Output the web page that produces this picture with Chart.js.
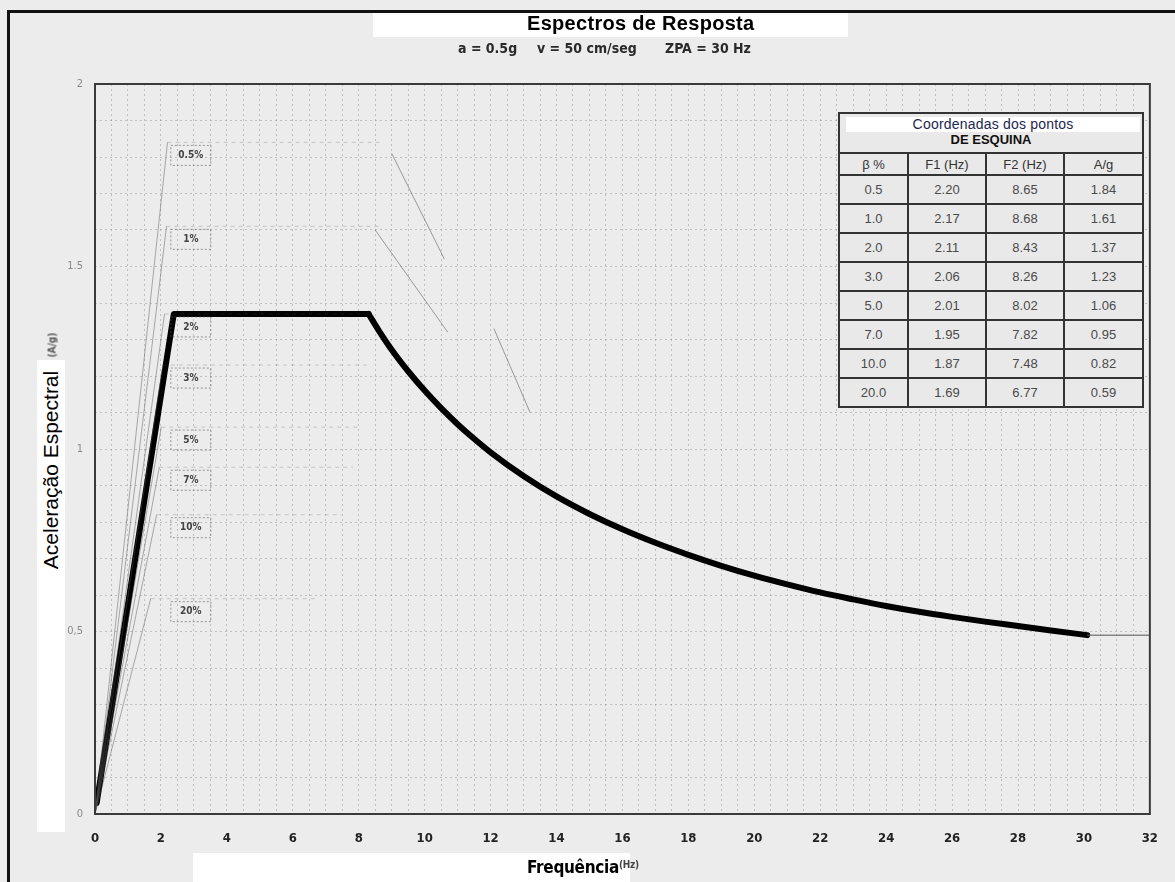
<!DOCTYPE html>
<html lang="pt-br">
<head>
<meta charset="UTF-8">
<title>Espectros de Resposta</title>
<script src="https://cdn.jsdelivr.net/npm/chart.js"></script>
<style>
  body { margin: 0; background: #ececec; font-family: "Liberation Sans", Arial, sans-serif; }
  #wrap { position: relative; width: 1175px; height: 882px; overflow: hidden; }
  #frame { position: absolute; left: 7px; top: 10px; width: 1170px; height: 880px;
           border-top: 3px solid #111; border-left: 3px solid #111; }
  canvas { position: absolute; left: 0; top: 0; }
  .white { position: absolute; background: #fff; }
  #titulo { position: absolute; left: 527px; top: 12px; font: bold 20px "Liberation Sans", Arial, sans-serif; color: #000; letter-spacing: 0.3px; }
  .sub { position: absolute; top: 40px; font: bold 14px "DejaVu Sans Condensed", "Liberation Sans", sans-serif; color: #2a2a2a; white-space: pre; }
  #ytitle { position: absolute; left: 51px; top: 470px; transform: translate(-50%, -50%) rotate(-90deg);
            font: 21px "Liberation Sans", Arial, sans-serif; color: #000; white-space: nowrap; }
  #yunit { position: absolute; left: 52px; top: 345px; transform: translate(-50%, -50%) rotate(-90deg);
           font: bold 10px "DejaVu Sans Condensed", sans-serif; color: #555; white-space: nowrap; }
  #xtitle { position: absolute; left: 527px; top: 857px; font: bold 17px "DejaVu Sans Condensed", "Liberation Sans", sans-serif; color: #000; white-space: nowrap; letter-spacing: -0.3px; }
  #xtitle small { font-size: 10px; color: #444; vertical-align: 5px; }
  #tabela { position: absolute; left: 838px; top: 112px; width: 304px; border-collapse: collapse; table-layout: fixed;
            background: #e9e9e9; border: 2px solid #222; font: 13px "Liberation Sans", Arial, sans-serif; color: #4a4a4a; }
  #tabela td { border: 2px solid #333; text-align: center; padding: 0; height: 27px; vertical-align: middle; }
  #tabela td.cab { height: 35px; border-bottom: 2px solid #333; line-height: 15px; padding-top: 3px; vertical-align: top; }
  #tabela .faixa { background: #fff; color: #1c2650; font-size: 14px; display: block; margin: 0 2px 0 6px; letter-spacing: 0.2px; }
  #tabela .esq { color: #111; font-weight: bold; font-size: 13px; }
  #tabela tr.hd td { height: 20px; color: #333; }
</style>
</head>
<body>
<div id="wrap">
  <div id="frame"></div>
  <canvas id="chart" width="1175" height="882"></canvas>
  <div class="white" style="left:373px;top:13px;width:475px;height:24px;"></div>
  <div id="titulo">Espectros de Resposta</div>
  <div class="sub" style="left:458px;">a = 0.5g</div>
  <div class="sub" style="left:537px;">v = 50 cm/seg</div>
  <div class="sub" style="left:665px;">ZPA = 30 Hz</div>
  <div class="white" style="left:37px;top:360px;width:28px;height:472px;"></div>
  <div id="ytitle">Aceleração Espectral</div>
  <div id="yunit">(A/g)</div>
  <div class="white" style="left:193px;top:853px;width:437px;height:29px;"></div>
  <div id="xtitle">Frequência<small>(Hz)</small></div>
  <table id="tabela">
    <colgroup><col style="width:69px"><col style="width:78px"><col style="width:78px"><col style="width:79px"></colgroup>
    <tbody id="corpo"></tbody>
  </table>
</div>
<script>
// dados
var amortecimento = [0.5, 1.0, 2.0, 3.0, 5.0, 7.0, 10.0, 20.0];
var rotulos = ['0.5%', '1%', '2%', '3%', '5%', '7%', '10%', '20%'];
var f1 = [2.20, 2.17, 2.11, 2.06, 2.01, 1.95, 1.87, 1.69];
var f2 = [8.65, 8.68, 8.43, 8.26, 8.02, 7.82, 7.48, 6.77];
var aG = [1.84, 1.61, 1.37, 1.23, 1.06, 0.95, 0.82, 0.59];

// curva principal: rampa + patamar
var rampaF = [0.05, 2.39, 8.3];
var rampaA = [0.03, 1.37, 1.37];
// curva principal: trecho descendente
var quedaF = [8.3, 8.6, 9, 9.5, 10, 10.5, 11, 11.5, 12, 13, 14, 15, 16, 17, 18, 19, 20, 21, 22, 23, 24, 25, 26, 27, 28, 29, 30.1];
var quedaA = [1.37, 1.326, 1.272, 1.213, 1.16, 1.112, 1.068, 1.028, 0.991, 0.926, 0.870, 0.822, 0.780, 0.743, 0.710, 0.680, 0.653, 0.629, 0.607, 0.588, 0.570, 0.554, 0.540, 0.527, 0.515, 0.503, 0.49];

// trechos descendentes fracos visíveis
var desc05f = [9.0, 10.6];
var desc05a = [1.81, 1.52];
var desc1f = [8.5, 10.7];
var desc1a = [1.60, 1.32];
var desc3f = [12.1, 13.2];
var desc3a = [1.33, 1.10];

// cauda após ZPA
var caudaF = [30.1, 32];
var caudaA = [0.49, 0.49];

// tabela HTML
var corpo = document.getElementById('corpo');
var html = '<tr><td class="cab" colspan="4"><span class="faixa">Coordenadas dos pontos</span><span class="esq">DE ESQUINA</span></td></tr>';
html += '<tr class="hd"><td>β %</td><td>F1 (Hz)</td><td>F2 (Hz)</td><td>A/g</td></tr>';
for (var i = 0; i < amortecimento.length; i++) {
  html += '<tr><td>' + amortecimento[i].toFixed(1) + '</td><td>' + f1[i].toFixed(2) + '</td><td>' + f2[i].toFixed(2) + '</td><td>' + aG[i].toFixed(2) + '</td></tr>';
}
corpo.innerHTML = html;

function pares(xs, ys) {
  return xs.map(function(x, k) { return {x: x, y: ys[k]}; });
}

var datasets = [];
for (var j = 0; j < amortecimento.length; j++) {
  datasets.push({
    data: [{x: 0, y: 0}, {x: f1[j], y: aG[j]}, {x: f2[j], y: aG[j]}],
    borderColor: 'rgba(80,80,80,0.45)',
    borderWidth: 1,
    pointRadius: 0,
    segment: {
      borderDash: function(ctx) { return ctx.p0DataIndex === 1 ? [4, 4] : undefined; },
      borderColor: function(ctx) { return ctx.p0DataIndex === 1 ? 'rgba(80,80,80,0.25)' : undefined; }
    }
  });
}
[[desc05f, desc05a], [desc1f, desc1a], [desc3f, desc3a]].forEach(function(d) {
  datasets.push({ data: pares(d[0], d[1]), borderColor: 'rgba(70,70,70,0.5)', borderWidth: 1, pointRadius: 0 });
});
datasets.push({ data: pares(caudaF, caudaA), borderColor: 'rgba(90,90,90,0.7)', borderWidth: 1.5, pointRadius: 0 });
datasets.push({ data: pares(rampaF, rampaA), borderColor: '#000', borderWidth: 6, pointRadius: 0, borderJoinStyle: 'round', borderCapStyle: 'round' });
datasets.push({ data: pares(quedaF, quedaA), borderColor: '#000', borderWidth: 6, pointRadius: 0, borderCapStyle: 'round', cubicInterpolationMode: 'monotone' });

var molduraERotulos = {
  id: 'molduraERotulos',
  afterDraw: function(chart) {
    var c = chart.ctx, a = chart.chartArea, xs = chart.scales.x, ys = chart.scales.y;
    c.save();
    c.strokeStyle = '#3a3a3a';
    c.lineWidth = 2;
    c.strokeRect(a.left, a.top, a.right - a.left, a.bottom - a.top);
    c.font = 'bold 10px "DejaVu Sans Condensed", sans-serif';
    c.textAlign = 'center';
    c.textBaseline = 'middle';
    for (var i = 0; i < rotulos.length; i++) {
      var px = xs.getPixelForValue(2.3);
      var py = ys.getPixelForValue(aG[i]) + 13;
      c.setLineDash([2, 2]);
      c.strokeStyle = 'rgba(90,90,90,0.6)';
      c.lineWidth = 1;
      c.strokeRect(px, py - 10, 40, 20);
      c.setLineDash([]);
      c.fillStyle = '#444';
      c.fillText(rotulos[i], px + 20, py);
    }
    c.restore();
  }
};

new Chart(document.getElementById('chart'), {
  type: 'line',
  data: { datasets: datasets },
  options: {
    responsive: false,
    animation: false,
    devicePixelRatio: 1,
    layout: { padding: { left: 0, top: 84, right: 7, bottom: 0 } },
    plugins: { legend: { display: false }, tooltip: { enabled: false } },
    scales: {
      x: {
        type: 'linear', min: 0, max: 32,
        afterFit: function(s) { s.height = 68; },
        grid: { color: 'rgba(110,110,110,0.35)', drawTicks: false },
        border: { display: false, dash: [2, 3] },
        ticks: {
          stepSize: 0.5, autoSkip: false, maxRotation: 0, padding: 17,
          color: '#222', font: { family: '"DejaVu Sans Condensed", sans-serif', size: 13, weight: 'bold' },
          callback: function(v) { return (Math.round(v * 2) % 4 === 0) ? String(v) : ''; }
        }
      },
      y: {
        min: 0, max: 2,
        afterFit: function(s) { s.width = 95; },
        grid: { color: 'rgba(110,110,110,0.35)', drawTicks: false },
        border: { display: false, dash: [2, 3] },
        ticks: {
          stepSize: 0.1, autoSkip: false, padding: 12,
          color: '#8a8a8a', font: { family: '"DejaVu Sans Condensed", sans-serif', size: 11 },
          callback: function(v) {
            var d = Math.round(v * 10);
            var mapa = {0: '0', 5: '0,5', 10: '1', 15: '1.5', 20: '2'};
            return mapa[d] !== undefined ? mapa[d] : '';
          }
        }
      }
    }
  },
  plugins: [molduraERotulos]
});
</script>
</body>
</html>
